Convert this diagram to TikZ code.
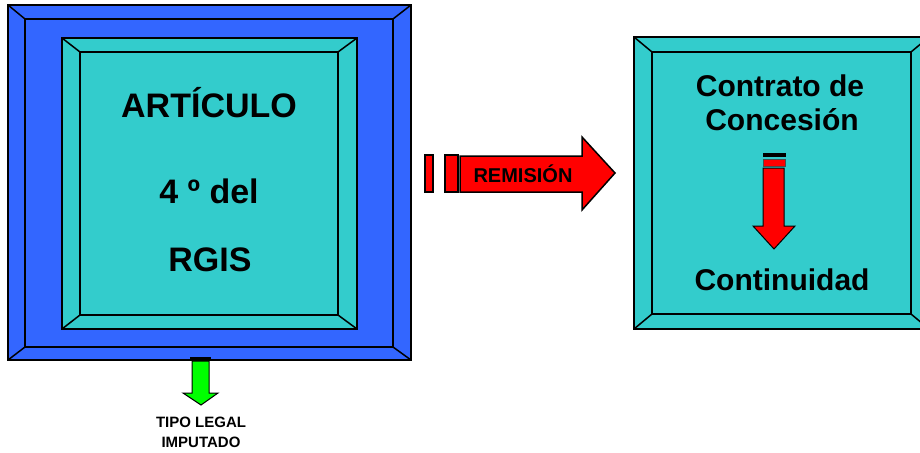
\documentclass[tikz,border=0pt]{standalone}
\usepackage{fontspec}
\setmainfont{Liberation Sans}
\definecolor{frameblue}{HTML}{3366FF}
\definecolor{panelcyan}{HTML}{33CCCC}
\definecolor{arrowred}{HTML}{FF0000}
\definecolor{arrowgreen}{HTML}{00FF00}

\tikzset{
  edge/.style={draw=black, line width=1.5pt, line join=miter},
  bigtxt/.style={font=\fontsize{34}{39}\selectfont\bfseries},
  midtxt/.style={font=\fontsize{30}{35}\selectfont\bfseries}
}

\begin{document}
\begin{tikzpicture}[x=1pt, y=-1pt]
\useasboundingbox (0,0) rectangle (920,452);
\fill[white] (0,0) rectangle (920,452);

% --- Left: blue frame ---
\fill[frameblue] (8,5) rectangle (411,360);
\draw[edge] (8,5) rectangle (411,360);
\draw[edge] (25,19) rectangle (393,347);
\draw[edge] (8,5) -- (25,19) (411,5) -- (393,19) (411,360) -- (393,347) (8,360) -- (25,347);

% cyan panel inside
\fill[panelcyan] (62,38) rectangle (357,329);
\draw[edge] (62,38) rectangle (357,329);
\draw[edge] (80,52) rectangle (338,315);
\draw[edge] (62,38) -- (80,52) (357,38) -- (338,52) (357,329) -- (338,315) (62,329) -- (80,315);

\node[bigtxt] (art) at (209,103) {ARTÍCULO};
\node[bigtxt] (num) at (209,191) {4 º del};
\node[bigtxt] (rgis) at (210,260) {RGIS};

% --- Right: cyan panel ---
\fill[panelcyan] (634,37) rectangle (929,329);
\draw[edge] (634,37) rectangle (929,329);
\draw[edge] (652,52) rectangle (911,314);
\draw[edge] (634,37) -- (652,52) (929,37) -- (911,52) (929,329) -- (911,314) (634,329) -- (652,314);

\node[midtxt] (contrato) at (780,86) {Contrato de};
\node[midtxt] (concesion) at (782,120) {Concesión};
\node[midtxt] (continuidad) at (782,280) {Continuidad};

% down arrow (red)
\fill[black] (763,153) rectangle (786,157);
\draw[arrowred, fill=arrowred] (763.5,159) rectangle (785,166);
\draw[black!70, line width=0.6pt] (763.5,159) rectangle (785,166);
\draw[fill=arrowred, line width=1pt] (763,168) -- (784,168) -- (784,226) -- (795,226) -- (774,249) -- (753,226) -- (763,226) -- cycle;

% --- Middle: REMISION arrow ---
\draw[edge, fill=arrowred] (425,155) rectangle (433,192);
\draw[edge, fill=arrowred] (445,155) rectangle (458,192);
\draw[edge, fill=arrowred] (460,156) -- (582,156) -- (582,137) -- (615,173) -- (582,210) -- (582,192) -- (460,192) -- cycle;
\node[font=\fontsize{20}{23}\selectfont\bfseries] (remision) at (523,174) {REMISIÓN};

% --- Bottom: green arrow ---
\fill[black] (190,357) rectangle (211,361);
\draw[fill=arrowgreen, line width=1pt] (192,361) -- (209,361) -- (209,393) -- (218,393) -- (201,405) -- (183,393) -- (192,393) -- cycle;
\node[font=\fontsize{15}{18}\selectfont\bfseries] (tipo) at (201,422) {TIPO LEGAL};
\node[font=\fontsize{15}{18}\selectfont\bfseries] (imputado) at (201,442) {IMPUTADO};

\end{tikzpicture}
\end{document}
